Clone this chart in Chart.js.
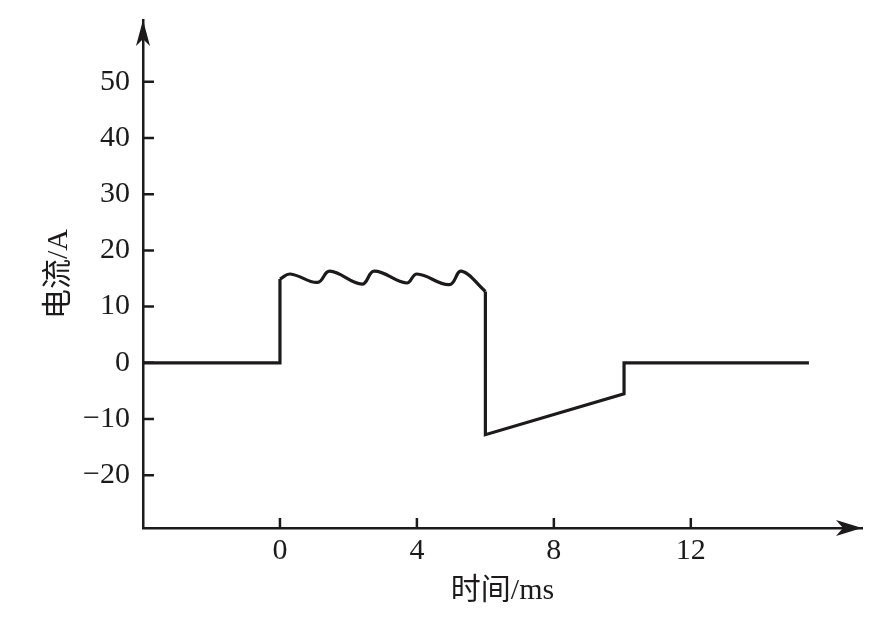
<!DOCTYPE html>
<html>
<head>
<meta charset="utf-8">
<script src="https://cdn.jsdelivr.net/npm/chart.js@4/dist/chart.umd.min.js"></script>
<style>
  html, body { margin: 0; padding: 0; background: #fff; }
  #chart { display: block; }
</style>
</head>
<body>
<canvas id="chart" width="889" height="628"></canvas>
<script>
// values (time in ms, current in A)
const baseX = [-4, 0, 0];
const baseY = [0, 0, 14.9];
const waveX = [0, 0.3, 1.1, 1.45, 2.4, 2.75, 3.7, 4.0, 4.95, 5.3, 6.0];
const waveY = [14.9, 15.8, 14.3, 16.3, 14.0, 16.3, 14.2, 15.8, 13.9, 16.3, 12.7];
const tailX = [6.0, 6.0, 10.05, 10.05, 15.45];
const tailY = [12.7, -12.8, -5.5, 0, 0];

const xTicks = [0, 4, 8, 12];
const yTicks = [-20, -10, 0, 10, 20, 30, 40, 50];
const xTitle = "时间/ms";
const yTitle = "电流/A";

const ink = "#1c1a1a";
const numFont = { family: "'Liberation Serif', 'Noto Sans CJK SC', serif", size: 30 };
const cjkFont = { family: "'Liberation Serif', 'Noto Sans CJK SC', serif", size: 30 };

function pts(xs, ys) {
    return xs.map((x, i) => ({ x: x, y: ys[i] }));
}

// inward tick marks and arrow heads on the axes
const axisDeco = {
    id: "axisDeco",
    afterDraw(chart) {
        const ctx = chart.ctx;
        const xs = chart.scales.x, ys = chart.scales.y;
        const area = chart.chartArea;
        ctx.save();
        ctx.strokeStyle = ink;
        ctx.fillStyle = ink;
        ctx.lineWidth = 2.5;
        ctx.beginPath();
        xTicks.forEach(v => {
            const px = xs.getPixelForValue(v);
            ctx.moveTo(px, area.bottom);
            ctx.lineTo(px, area.bottom - 10);
        });
        yTicks.forEach(v => {
            const py = ys.getPixelForValue(v);
            ctx.moveTo(area.left, py);
            ctx.lineTo(area.left + 11, py);
        });
        ctx.stroke();

        // x arrow
        const tx = area.right, ty = area.bottom;
        ctx.beginPath();
        ctx.moveTo(tx, ty);
        ctx.lineTo(tx - 26, ty - 8);
        ctx.lineTo(tx - 19, ty);
        ctx.lineTo(tx - 26, ty + 8);
        ctx.closePath();
        ctx.fill();
        // y arrow
        const ax = area.left, ay = area.top;
        ctx.beginPath();
        ctx.moveTo(ax, ay);
        ctx.lineTo(ax - 7, ay + 26);
        ctx.lineTo(ax, ay + 19);
        ctx.lineTo(ax + 7, ay + 26);
        ctx.closePath();
        ctx.fill();
        ctx.restore();
    }
};

const lineStyle = {
    borderColor: ink,
    borderWidth: 3.2,
    pointRadius: 0,
    fill: false,
    borderJoinStyle: "miter",
    borderCapStyle: "butt"
};

new Chart(document.getElementById("chart").getContext("2d"), {
    type: "line",
    data: {
        datasets: [
            Object.assign({ data: pts(baseX, baseY), tension: 0 }, lineStyle),
            Object.assign({ data: pts(waveX, waveY), tension: 0.4 }, lineStyle),
            Object.assign({ data: pts(tailX, tailY), tension: 0 }, lineStyle)
        ]
    },
    options: {
        responsive: false,
        animation: false,
        devicePixelRatio: 1,
        layout: { padding: { top: 20, right: 27, left: 0, bottom: 0 } },
        plugins: { legend: { display: false }, tooltip: { enabled: false } },
        scales: {
            x: {
                type: "linear",
                min: -4,
                max: 17,
                afterBuildTicks: s => { s.ticks = xTicks.map(v => ({ value: v })); },
                afterFit: s => { s.height = 100; s.paddingLeft = 0; s.paddingRight = 0; },
                grid: { display: false, drawTicks: false },
                border: { display: true, color: ink, width: 2.5 },
                ticks: { color: ink, font: numFont, padding: 5, maxRotation: 0 },
                title: { display: true, text: xTitle, color: ink, font: cjkFont, padding: { top: 0, bottom: 19 } }
            },
            y: {
                type: "linear",
                min: -29.4,
                max: 61,
                afterBuildTicks: s => { s.ticks = yTicks.map(v => ({ value: v })); },
                afterFit: s => { s.width = 143; s.paddingTop = 0; s.paddingBottom = 0; },
                grid: { display: false, drawTicks: false },
                border: { display: true, color: ink, width: 2.5 },
                ticks: {
                    color: ink, font: numFont, padding: 13,
                    callback: v => String(v).replace("-", "\u2212")
                },
                title: { display: true, text: yTitle, color: ink, font: cjkFont, padding: { top: 41, bottom: 0 } }
            }
        }
    },
    plugins: [axisDeco]
});
</script>
</body>
</html>
